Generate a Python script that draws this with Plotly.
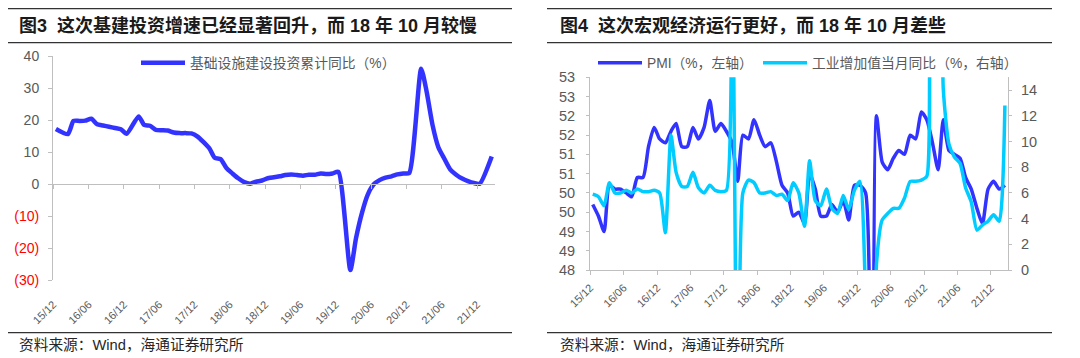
import plotly.graph_objects as go

# ---------------- data ----------------
# Left: infrastructure investment, cumulative YoY (%), Dec-2015 .. Feb-2022 (no January prints)
infra_yoy = [
    17.2,
    15.6, 19.7, 19.7, 19.8, 20.4, 18.7, 18.3, 17.9, 17.5, 17.1, 15.7,   # 2016 Feb-Dec
    21.1, 18.5, 18.2, 16.9, 16.8, 16.7, 16.1, 15.9, 15.9, 15.8, 14.9,   # 2017
    11.2, 8.2, 7.8, 5.0, 3.3, 1.8, 0.6, 0.1, 0.7, 1.1, 1.8,             # 2018
    2.4, 2.8, 3.0, 2.8, 2.6, 2.9, 2.9, 3.3, 3.1, 3.3, 3.8,              # 2019
    -26.9, -17.0, -9.0, -3.3, -0.1, 1.2, 2.0, 2.4, 3.0, 3.3, 3.4,       # 2020
    36.0, 29.0, 18.4, 11.5, 7.9, 4.6, 2.9, 1.7, 0.9, 0.3, 0.1,          # 2021
    8.6,                                                                # 2022 Feb
]

# Right: manufacturing PMI (%) and industrial value added, monthly YoY (%), Dec-2015 .. Feb-2022
pmi = [
    49.7,
    49.4, 49.0, 50.2, 50.1, 50.1, 50.0, 49.9, 50.4, 50.4, 51.2, 51.7, 51.4,
    51.3, 51.6, 51.8, 51.2, 51.2, 51.7, 51.4, 51.7, 52.4, 51.6, 51.8, 51.6,
    51.3, 50.3, 51.5, 51.4, 51.9, 51.5, 51.2, 51.3, 50.8, 50.2, 50.0, 49.4,
    49.5, 49.2, 50.5, 50.1, 49.4, 49.4, 49.7, 49.5, 49.8, 49.3, 50.2, 50.2,
    50.0, 35.7, 52.0, 50.8, 50.6, 50.9, 51.1, 51.0, 51.5, 51.4, 52.1, 51.9,
    51.3, 50.6, 51.9, 51.1, 51.0, 50.9, 50.4, 50.1, 49.6, 49.2, 50.1, 50.3,
    50.1, 50.2,
]
ip_yoy = [
    5.9,
    5.7, 5.0, 6.8, 6.0, 6.0, 6.2, 6.0, 6.3, 6.1, 6.1, 6.2, 6.0,
    2.9, 10.5, 7.6, 6.5, 6.5, 7.6, 6.4, 6.0, 6.6, 6.2, 6.1, 6.2,
    25.0, -17.0, 6.0, 7.0, 6.8, 6.0, 6.0, 6.1, 5.8, 5.9, 5.4, 6.8,
    6.0, 3.4, 8.5, 5.4, 5.0, 6.3, 4.8, 4.4, 5.8, 4.7, 6.2, 6.9,
    -2.0, -20.0, 0.5, 3.9, 4.4, 4.8, 4.8, 5.6, 6.9, 6.9, 7.0, 7.3,
    35.0, 35.0, 14.1, 9.8, 8.8, 8.3, 6.4, 5.3, 3.1, 3.5, 3.8, 4.3,
    3.8, 12.8,
]

tick_dates = ["2015-12-01", "2016-06-01", "2016-12-01", "2017-06-01", "2017-12-01",
              "2018-06-01", "2018-12-01", "2019-06-01", "2019-12-01", "2020-06-01",
              "2020-12-01", "2021-06-01", "2021-12-01"]
tick_labels = ["15/12", "16/06", "16/12", "17/06", "17/12", "18/06", "18/12",
               "19/06", "19/12", "20/06", "20/12", "21/06", "21/12"]

left_ticks = [-30, -20, -10, 0, 10, 20, 30, 40]
left_tick_labels = ["(30)", "(20)", "(10)", "0", "10", "20", "30", "40"]
pmi_ticks = [48, 48.5, 49, 49.5, 50, 50.5, 51, 51.5, 52, 52.5, 53]
pmi_tick_labels = ["48", "49", "49", "50", "50", "51", "51", "52", "52", "53", "53"]
ip_ticks = [0, 2, 4, 6, 8, 10, 12, 14]

name_infra = "基础设施建设投资累计同比（%）"
name_pmi = "PMI（%，左轴）"
name_ip = "工业增加值当月同比（%，右轴）"
title_left = "<b>图3&nbsp;&nbsp;这次基建投资增速已经显著回升，而 18 年 10 月较慢</b>"
title_right = "<b>图4&nbsp;&nbsp;这次宏观经济运行更好，而 18 年 10 月差些</b>"
source_text = "资料来源：Wind，海通证券研究所"


def month_dates(y, m, count, skip_jan=False):
    out = []
    while len(out) < count:
        if not (skip_jan and m == 1):
            out.append(f"{y}-{m:02d}-15")
        m += 1
        if m > 12:
            m, y = 1, y + 1
    return out


infra_dates = month_dates(2015, 12, len(infra_yoy), skip_jan=True)
macro_dates = month_dates(2015, 12, len(pmi))

# ---------------- layout helpers ----------------
# the page body has an 8px margin, so the figure is drawn 8px in from the window corner
OFF = 8
W, H = 1080 - OFF, 358 - OFF
def fx(px): return (px - OFF) / W
def fy(py): return 1 - (py - OFF) / H

FONT = "Liberation Sans, Arial, Noto Sans CJK SC, sans-serif"
CJK = "Liberation Sans, Noto Sans CJK SC, sans-serif"
GRAY = "#595959"
AXIS = "#BFBFBF"
BLUE = "#3333FF"
CYAN = "#00CCFF"
X_RANGE = ["2015-11-30", "2022-03-04"]

fig = go.Figure()

fig.add_trace(go.Scatter(x=infra_dates, y=infra_yoy, name=name_infra, mode="lines",
                         line=dict(color=BLUE, width=4.5, shape="spline", smoothing=0.6),
                         xaxis="x", yaxis="y", legend="legend", showlegend=True))
# carrier for the zero-line axis
fig.add_trace(go.Scatter(x=[], y=[], xaxis="x3", yaxis="y", showlegend=False, hoverinfo="skip"))

fig.add_trace(go.Scatter(x=macro_dates, y=pmi, name=name_pmi, mode="lines",
                         line=dict(color=BLUE, width=3.5, shape="spline", smoothing=0.6),
                         xaxis="x2", yaxis="y2", legend="legend2", showlegend=True))
fig.add_trace(go.Scatter(x=macro_dates, y=ip_yoy, name=name_ip, mode="lines",
                         line=dict(color=CYAN, width=3.5, shape="spline", smoothing=0.6),
                         xaxis="x2", yaxis="y4", legend="legend3", showlegend=True))

ydom_l = [fy(280), fy(56)]
zero_pos = ydom_l[0] + (0 - (-30)) / 70 * (ydom_l[1] - ydom_l[0])

left_ticktext = [f"<span style='color:#FF0000'>{t}</span>" if v < 0 else t
                 for v, t in zip(left_ticks, left_tick_labels)]

common_x = dict(type="date", range=X_RANGE, tickmode="array", tickvals=tick_dates,
                ticktext=tick_labels, tickangle=-45, showgrid=False, zeroline=False,
                automargin=False, tickfont=dict(family=FONT, size=11, color=GRAY))

legend_common = dict(xanchor="left", yanchor="middle", bgcolor="rgba(0,0,0,0)",
                     borderwidth=0, itemwidth=44,
                     font=dict(family=CJK, size=13.8, color=GRAY))

fig.update_layout(
    template="none",
    width=W, height=H, margin=dict(l=0, r=0, t=0, b=0, pad=0), autosize=False,
    paper_bgcolor="white", plot_bgcolor="rgba(0,0,0,0)", hovermode=False,
    showlegend=True, font=dict(family=FONT, color=GRAY),
    xaxis=dict(**common_x, domain=[fx(53), fx(495)], anchor="y", showline=False,
               ticks="", ticklabelstandoff=15),
    xaxis3=dict(type="date", range=X_RANGE, domain=[fx(53), fx(495)], overlaying="x",
                anchor="free", position=zero_pos, showline=True, linecolor=AXIS, linewidth=1,
                ticks="outside", ticklen=4, tickcolor=AXIS, tickmode="array",
                tickvals=tick_dates, showticklabels=False, showgrid=False, zeroline=False,
                automargin=False),
    yaxis=dict(domain=ydom_l, anchor="x", range=[-30, 40], tickmode="array",
               tickvals=left_ticks, ticktext=left_ticktext, showline=True, linecolor=AXIS,
               ticks="outside", ticklen=4, tickcolor=AXIS, showgrid=False, zeroline=False,
               automargin=False,
               tickfont=dict(family=FONT, size=14, color=GRAY), ticklabelstandoff=6),
    xaxis2=dict(**common_x, domain=[fx(590), fx(1008)], anchor="y2", showline=True,
                linecolor=AXIS, ticks="outside", ticklen=4, tickcolor=AXIS,
                ticklabelstandoff=2),
    yaxis2=dict(domain=[fy(270), fy(77.3)], anchor="x2", range=[48, 53], tickmode="array",
                tickvals=pmi_ticks, ticktext=pmi_tick_labels, showline=True, linecolor=AXIS,
                ticks="outside", ticklen=3, tickcolor=AXIS, showgrid=False, zeroline=False,
                automargin=False,
                tickfont=dict(family=FONT, size=14.5, color=GRAY), ticklabelstandoff=8),
    yaxis4=dict(domain=[fy(270), fy(77.3)], anchor="x2", overlaying="y2", side="right",
                range=[0, 15], tickmode="array", tickvals=ip_ticks, showline=True,
                linecolor=AXIS, ticks="outside", ticklen=3, tickcolor=AXIS, showgrid=False,
                zeroline=False, automargin=False,
                tickfont=dict(family=FONT, size=14.5, color=GRAY), ticklabelstandoff=6),
    legend=dict(**legend_common, x=fx(136), y=fy(62.7)),
    legend2=dict(**legend_common, x=fx(593), y=fy(62.7)),
    legend3=dict(**legend_common, x=fx(758), y=fy(62.7)),
)

ann = []
for x0, title in [(17, title_left), (558, title_right)]:
    ann.append(dict(text=title, xref="paper", yref="paper", x=fx(x0), y=fy(25.5),
                    xanchor="left", yanchor="middle", showarrow=False,
                    font=dict(family=CJK, size=18, color="#1A1A1A")))
for x0 in (17, 558):
    ann.append(dict(text=source_text, xref="paper", yref="paper", x=fx(x0), y=fy(345),
                    xanchor="left", yanchor="middle", showarrow=False,
                    font=dict(family=CJK, size=14.7, color="#262626")))
fig.update_layout(annotations=ann)

shapes = []
for (a, b) in [(8, 512), (547, 1052)]:
    for yy in (8.6, 42.7, 332.7):
        shapes.append(dict(type="line", xref="paper", yref="paper", x0=fx(a), x1=fx(b),
                           y0=fy(yy), y1=fy(yy), line=dict(color="#333333", width=1.3)))
fig.update_layout(shapes=shapes)

fig.write_html("out.html")
